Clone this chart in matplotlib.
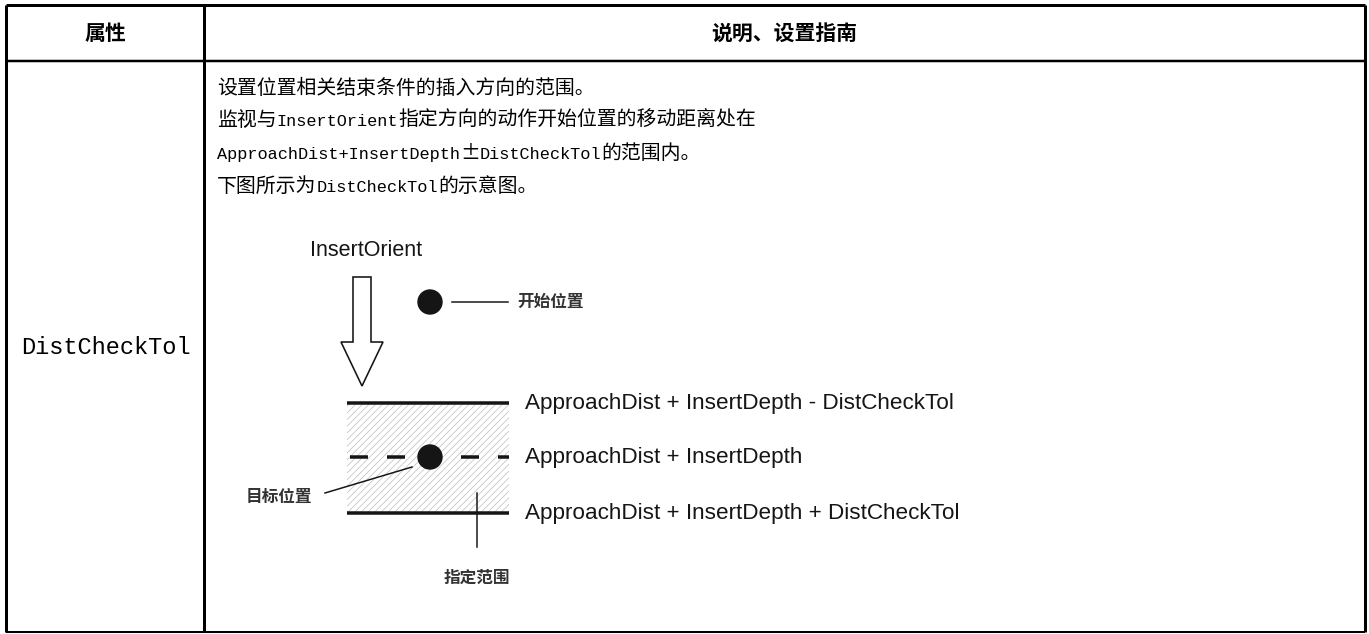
import matplotlib
matplotlib.use("Agg")
import matplotlib.pyplot as plt
from matplotlib.patches import Rectangle, Circle, Polygon
from matplotlib.offsetbox import TextArea, HPacker, AnnotationBbox

# texts of the table
header = ["属性", "说明、设置指南"]
prop_name = "DistCheckTol"
desc_lines = [
    "设置位置相关结束条件的插入方向的范围。",
    "监视与InsertOrient指定方向的动作开始位置的移动距离处在",
    "ApproachDist+InsertDepth±DistCheckTol的范围内。",
    "下图所示为DistCheckTol的示意图。",
]
# texts of the diagram
orient_label = "InsertOrient"
start_label = "开始位置"
target_label = "目标位置"
range_label = "指定范围"
level_labels = [
    "ApproachDist + InsertDepth - DistCheckTol",
    "ApproachDist + InsertDepth",
    "ApproachDist + InsertDepth + DistCheckTol",
]

mono_font = ["Liberation Mono", "DejaVu Sans Mono"]
cjk_font = ["Noto Sans CJK SC", "DejaVu Sans"]
sans_font = ["Liberation Sans", "DejaVu Sans"]


def split_runs(s):
    # split a line into ascii / non-ascii runs so each gets its own font
    runs = []
    for ch in s:
        kind = ord(ch) < 128
        if runs and runs[-1][0] == kind:
            runs[-1][1] += ch
        else:
            runs.append([kind, ch])
    return runs


def mixed_line(ax, x, y, s):
    parts = []
    for is_ascii, txt in split_runs(s):
        if is_ascii:
            props = dict(family=mono_font, fontsize=12.2, color="black")
        else:
            props = dict(family=cjk_font, fontsize=14.3, color="black")
        parts.append(TextArea(txt, textprops=props))
    box = HPacker(children=parts, align="baseline", pad=0, sep=0)
    ab = AnnotationBbox(box, (x, y), xycoords="data", box_alignment=(0, 0.5),
                        frameon=False, pad=0)
    ax.add_artist(ab)


W, H = 1369, 634
fig = plt.figure(figsize=(W / 100, H / 100), dpi=100)
ax = fig.add_axes([0, 0, 1, 1])
ax.set_xlim(0, W)
ax.set_ylim(H, 0)
ax.axis("off")

px = 0.72  # one pixel in points

# table grid
left, right, top, head_bot, bottom, col = 6, 1365, 5, 61, 632, 204
ax.hlines([top], left, right, color="black", lw=3 * px)
ax.hlines([head_bot], left, right, color="black", lw=2.5 * px)
ax.hlines([bottom], left, right, color="black", lw=2 * px)
ax.vlines([left, right], top, bottom, color="black", lw=3 * px)
ax.vlines([col], top, bottom, color="black", lw=3 * px)

# header
ax.text((left + col) / 2, 33, header[0], ha="center", va="center",
        fontsize=15, fontweight="bold", family=cjk_font)
ax.text((col + right) / 2, 33, header[1], ha="center", va="center",
        fontsize=15, fontweight="bold", family=cjk_font)

# body
ax.text((left + col) / 2 + 1, 348, prop_name, ha="center", va="center",
        fontsize=17, family=mono_font)
for i, line in enumerate(desc_lines):
    mixed_line(ax, 217, 88 + i * 32.7, line)

# diagram
ink = "#151515"
ax.text(366, 251, orient_label, ha="center", va="center", fontsize=15.5,
        family=sans_font, color=ink)
cx = 362
arrow = Polygon([(cx - 9, 277), (cx + 9, 277), (cx + 9, 342), (cx + 21, 342),
                 (cx, 386), (cx - 21, 342), (cx - 9, 342)],
                closed=True, facecolor="white", edgecolor=ink, lw=1.6 * px)
ax.add_patch(arrow)

ax.add_patch(Circle((430, 302), 12, color=ink))
ax.plot([452, 508], [302, 302], color=ink, lw=1.5 * px)
ax.text(517, 302, start_label, ha="left", va="center", fontsize=12,
        fontweight="bold", family=cjk_font, color="#333333")

x0, x1 = 347, 509
ys = [403, 457, 513]
plt.rcParams["hatch.linewidth"] = 0.5
plt.rcParams["hatch.color"] = "#bdbdbd"
ax.add_patch(Rectangle((x0, ys[0]), x1 - x0, ys[2] - ys[0], facecolor="white",
                       edgecolor="#bdbdbd", hatch="/////", lw=0))
ax.plot([x0, x1], [ys[0], ys[0]], color=ink, lw=3.5 * px, solid_capstyle="butt")
ax.plot([x0, x1], [ys[2], ys[2]], color=ink, lw=3.5 * px, solid_capstyle="butt")
ax.plot([x0 + 3, x1], [ys[1], ys[1]], color=ink, lw=3.5 * px,
        dashes=(18 / 3.5, 19 / 3.5))
ax.add_patch(Circle((430, ys[1]), 12, color=ink, zorder=3))

for y, lab in zip(ys, level_labels):
    ax.text(525, y, lab, ha="left", va="center", fontsize=16.2,
            family=sans_font, color=ink)

# pointer to target
ax.plot([325, 412], [493, 467], color=ink, lw=1.5 * px)
ax.text(246, 497, target_label, ha="left", va="center", fontsize=12,
        fontweight="bold", family=cjk_font, color="#333333")

# range marker
ax.plot([477, 477], [493, 547], color=ink, lw=1.5 * px)
ax.text(477, 578, range_label, ha="center", va="center", fontsize=12,
        fontweight="bold", family=cjk_font, color="#333333")

fig.savefig("out.png", dpi=100)
